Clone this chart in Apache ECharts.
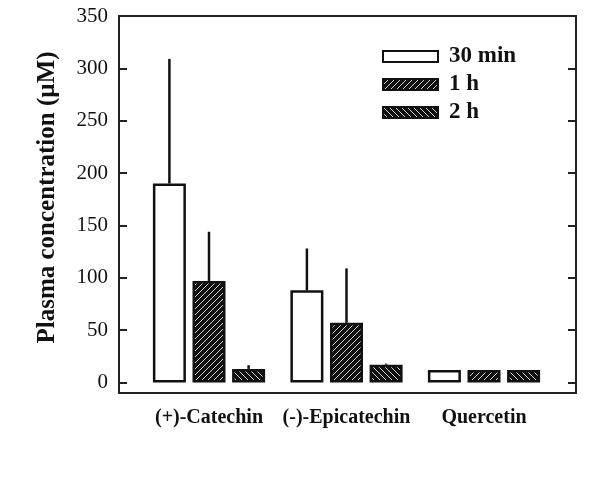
<!DOCTYPE html>
<html>
<head>
<meta charset="utf-8">
<script src="https://cdn.jsdelivr.net/npm/echarts@6/dist/echarts.min.js"></script>
<style>html,body{margin:0;padding:0;background:#fff}#c{width:600px;height:479px}</style>
</head>
<body>
<div id="c"></div>
<script>
const categories = ['(+)-Catechin', '(-)-Epicatechin', 'Quercetin'];
const seriesNames = ['30 min', '1 h', '2 h'];
const min30 = [190, 88, 12];
const h1 = [97, 57, 12];
const h2 = [13, 17, 12];
const min30Err = [119, 40, 0];
const h1Err = [47, 52, 0];
const h2Err = [3.5, 1, 0];
const yTicks = [0, 50, 100, 150, 200, 250, 300, 350];

function hatch(dir) {
  const s = 6;
  const c = document.createElement('canvas');
  c.width = s; c.height = s;
  const g = c.getContext('2d');
  g.fillStyle = '#111';
  g.fillRect(0, 0, s, s);
  g.strokeStyle = '#fff';
  g.lineWidth = 0.8;
  g.beginPath();
  if (dir === '/') {
    g.moveTo(0, s); g.lineTo(s, 0);
    g.moveTo(-1, 1); g.lineTo(1, -1);
    g.moveTo(s - 1, s + 1); g.lineTo(s + 1, s - 1);
  } else {
    g.moveTo(0, 0); g.lineTo(s, s);
    g.moveTo(-1, s - 1); g.lineTo(1, s + 1);
    g.moveTo(s - 1, -1); g.lineTo(s + 1, 1);
  }
  g.stroke();
  return { image: c, repeat: 'repeat' };
}

const fills = ['#fff', hatch('/'), hatch('\\')];
const values = [min30, h1, h2];
const errs = [min30Err, h1Err, h2Err];
const BAR_W = 33, BAR_GAP = 0.2;
const font = 'Liberation Serif';

const series = [];
values.forEach((v, k) => {
  series.push({
    name: seriesNames[k], type: 'bar', xAxisIndex: 1, yAxisIndex: 2,
    data: v, barWidth: BAR_W, barGap: (BAR_GAP * 100) + '%',
    itemStyle: { color: fills[k], borderColor: '#111', borderWidth: 2.5 },
    emphasis: { disabled: true }
  });
});
values.forEach((v, k) => {
  series.push({
    type: 'custom', xAxisIndex: 1, yAxisIndex: 2, z: 5,
    data: v.map((val, i) => [i, val, errs[k][i]]),
    renderItem: function (params, api) {
      const i = api.value(0), val = api.value(1), e = api.value(2);
      if (!e) return null;
      const off = (k - 1) * BAR_W * (1 + BAR_GAP);
      const p0 = api.coord([i, val]);
      const p1 = api.coord([i, val + e]);
      return {
        type: 'line',
        shape: { x1: p0[0] + off, y1: p0[1], x2: p1[0] + off, y2: p1[1] },
        style: { stroke: '#111', lineWidth: 2.5 }
      };
    }
  });
});

const chart = echarts.init(document.getElementById('c'), null, { renderer: 'canvas' });
chart.setOption({
  animation: false,
  backgroundColor: '#fff',
  grid: [
    { left: 119, right: 24, top: 16, bottom: 86, show: true, borderColor: '#222', borderWidth: 2, backgroundColor: 'transparent' },
    { left: 140.25, right: 47.25, top: 16, bottom: 86 }
  ],
  legend: {
    data: seriesNames, orient: 'vertical', left: 382, top: 45, padding: 0,
    itemWidth: 55, itemHeight: 11, itemGap: 5, icon: 'rect',
    textStyle: { fontFamily: font, fontWeight: 'bold', fontSize: 23, color: '#111', padding: [0, 0, 0, 6] },
    selectedMode: false
  },
  xAxis: [
    { gridIndex: 0, type: 'category', data: categories, show: false },
    {
      gridIndex: 1, type: 'category', data: categories,
      axisLine: { show: false }, axisTick: { show: false },
      axisLabel: { interval: 0, hideOverlap: false, fontFamily: font, fontWeight: 'bold', fontSize: 20, color: '#111', margin: 15 }
    }
  ],
  yAxis: [
    {
      gridIndex: 0, type: 'value', min: -10, max: 350, position: 'left',
      name: 'Plasma concentration (\u00b5M)', nameLocation: 'middle', nameGap: 59, nameRotate: 90,
      nameTextStyle: { fontFamily: font, fontWeight: 'bold', fontSize: 25, color: '#111', padding: [0, 0, 0, 14] },
      axisLine: { show: true, onZero: false, lineStyle: { color: '#222', width: 2 } },
      axisTick: { show: true, inside: true, length: 8, customValues: yTicks, lineStyle: { color: '#222', width: 2 } },
      axisLabel: { customValues: yTicks, fontFamily: font, fontSize: 21, color: '#111', margin: 11 },
      splitLine: { show: false }
    },
    {
      gridIndex: 0, type: 'value', min: -10, max: 350, position: 'right',
      axisLine: { show: true, onZero: false, lineStyle: { color: '#222', width: 2 } },
      axisTick: { show: true, inside: true, length: 8, customValues: yTicks, lineStyle: { color: '#222', width: 2 } },
      axisLabel: { show: false },
      splitLine: { show: false }
    },
    { gridIndex: 1, type: 'value', min: -10, max: 350, show: false, splitLine: { show: false } }
  ],
  series: series
});
</script>
</body>
</html>
